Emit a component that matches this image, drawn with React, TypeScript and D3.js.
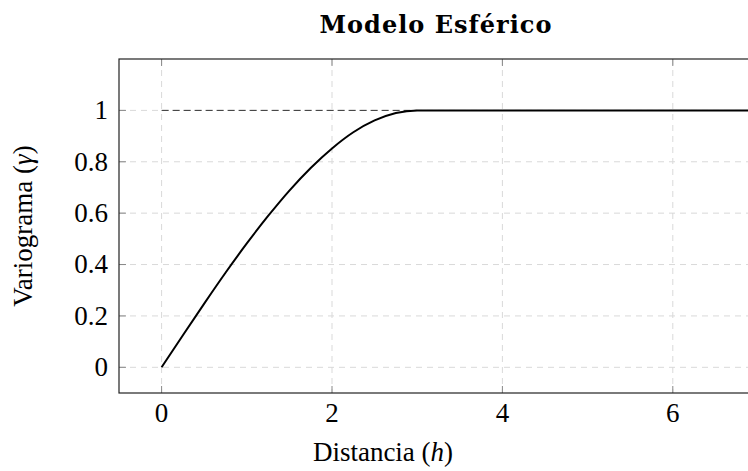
import { useEffect, useRef } from "react"
import * as d3 from "d3"

// curve points (distance h, variogram gamma)
const distance = [0, 0.25, 0.5, 0.75, 1, 1.25, 1.5, 1.75, 2, 2.25, 2.5, 2.75, 3, 4, 5, 6, 7]
const gamma = [0, 0.125, 0.248, 0.368, 0.482, 0.589, 0.688, 0.776, 0.852, 0.915, 0.961, 0.99, 1, 1, 1, 1, 1]
const xTicks = [0, 2, 4, 6]
const yTicks = [0, 0.2, 0.4, 0.6, 0.8, 1]
const sill = 1
const range = 3

export default function App() {
    const ref = useRef<SVGSVGElement | null>(null)

    useEffect(() => {
        const width = 748
        const height = 471
        const marginLeft = 119
        const marginTop = 59
        const plotBottom = 393
        const plotRight = 758 // frame goes past the picture edge

        const svg = d3.select(ref.current)
        svg.selectAll('*').remove()

        const x = d3.scaleLinear().domain([-0.5, 7]).range([marginLeft, plotRight])
        const y = d3.scaleLinear().domain([-0.1, 1.2]).range([plotBottom, marginTop])

        const font = '"Liberation Serif", "DejaVu Serif", serif'
        const fs = 27
        const grid = svg.append('g')

        // grid
        grid.selectAll('line.gx')
            .data(xTicks)
            .join('line')
                .attr('x1', d => x(d)).attr('x2', d => x(d))
                .attr('y1', marginTop).attr('y2', plotBottom)
                .attr('stroke', '#d9d9d9')
                .attr('stroke-dasharray', '6 5')
        grid.selectAll('line.gy')
            .data(yTicks)
            .join('line')
                .attr('x1', marginLeft).attr('x2', plotRight)
                .attr('y1', d => y(d)).attr('y2', d => y(d))
                .attr('stroke', '#d9d9d9')
                .attr('stroke-dasharray', '6 5')

        // tick marks inside frame
        const ticks = svg.append('g').attr('stroke', '#888')
        xTicks.forEach(t => {
            ticks.append('line').attr('x1', x(t)).attr('x2', x(t)).attr('y1', plotBottom).attr('y2', plotBottom - 7)
            ticks.append('line').attr('x1', x(t)).attr('x2', x(t)).attr('y1', marginTop).attr('y2', marginTop + 7)
        })
        yTicks.forEach(t => {
            ticks.append('line').attr('x1', marginLeft).attr('x2', marginLeft + 7).attr('y1', y(t)).attr('y2', y(t))
        })

        // sill dashed line
        svg.append('line')
            .attr('x1', x(0)).attr('x2', x(range))
            .attr('y1', y(sill)).attr('y2', y(sill))
            .attr('stroke', '#333')
            .attr('stroke-dasharray', '7 4')

        // curve
        const pts: [number, number][] = distance.map((d, i) => [d, gamma[i]])
        svg.append('path')
            .datum(pts)
            .attr('fill', 'none')
            .attr('stroke', 'black')
            .attr('stroke-width', 2)
            .attr('d', d3.line<[number, number]>().x(d => x(d[0])).y(d => y(d[1])).curve(d3.curveMonotoneX))

        // frame
        svg.append('rect')
            .attr('x', marginLeft).attr('y', marginTop)
            .attr('width', plotRight - marginLeft).attr('height', plotBottom - marginTop)
            .attr('fill', 'none').attr('stroke', '#222').attr('stroke-width', 1.2)

        // tick labels
        svg.append('g')
            .selectAll('text')
            .data(xTicks)
            .join('text')
                .attr('x', d => x(d)).attr('y', 422)
                .attr('text-anchor', 'middle')
                .attr('font-family', font).attr('font-size', fs)
                .text(d => d)
        svg.append('g')
            .selectAll('text')
            .data(yTicks)
            .join('text')
                .attr('x', 108).attr('y', d => y(d))
                .attr('dy', '0.33em')
                .attr('text-anchor', 'end')
                .attr('font-family', font).attr('font-size', fs)
                .text(d => d)

        // axis titles
        const xl = svg.append('text')
            .attr('x', 383).attr('y', 461)
            .attr('text-anchor', 'middle')
            .attr('font-family', font).attr('font-size', fs)
        xl.append('tspan').text('Distancia (')
        xl.append('tspan').attr('font-style', 'italic').text('h')
        xl.append('tspan').text(')')

        const yl = svg.append('text')
            .attr('transform', `translate(32,${(marginTop + plotBottom) / 2})rotate(-90)`)
            .attr('text-anchor', 'middle')
            .attr('font-family', font).attr('font-size', fs)
        yl.append('tspan').text('Variograma (')
        yl.append('tspan').attr('font-style', 'italic').text('γ')
        yl.append('tspan').text(')')

        svg.append('text')
            .attr('x', 436).attr('y', 33)
            .attr('text-anchor', 'middle')
            .attr('font-family', '"DejaVu Serif", serif').attr('font-size', 24).attr('font-weight', 'bold')
            .attr('letter-spacing', 1)
            .text('Modelo Esférico')

        svg.attr('width', width).attr('height', height)
    }, [])

    return (
        <div style={{ position: 'fixed', left: 0, top: 0 }}>
            <svg ref={ref} style={{ display: 'block', background: 'white' }} />
        </div>
    )
}
